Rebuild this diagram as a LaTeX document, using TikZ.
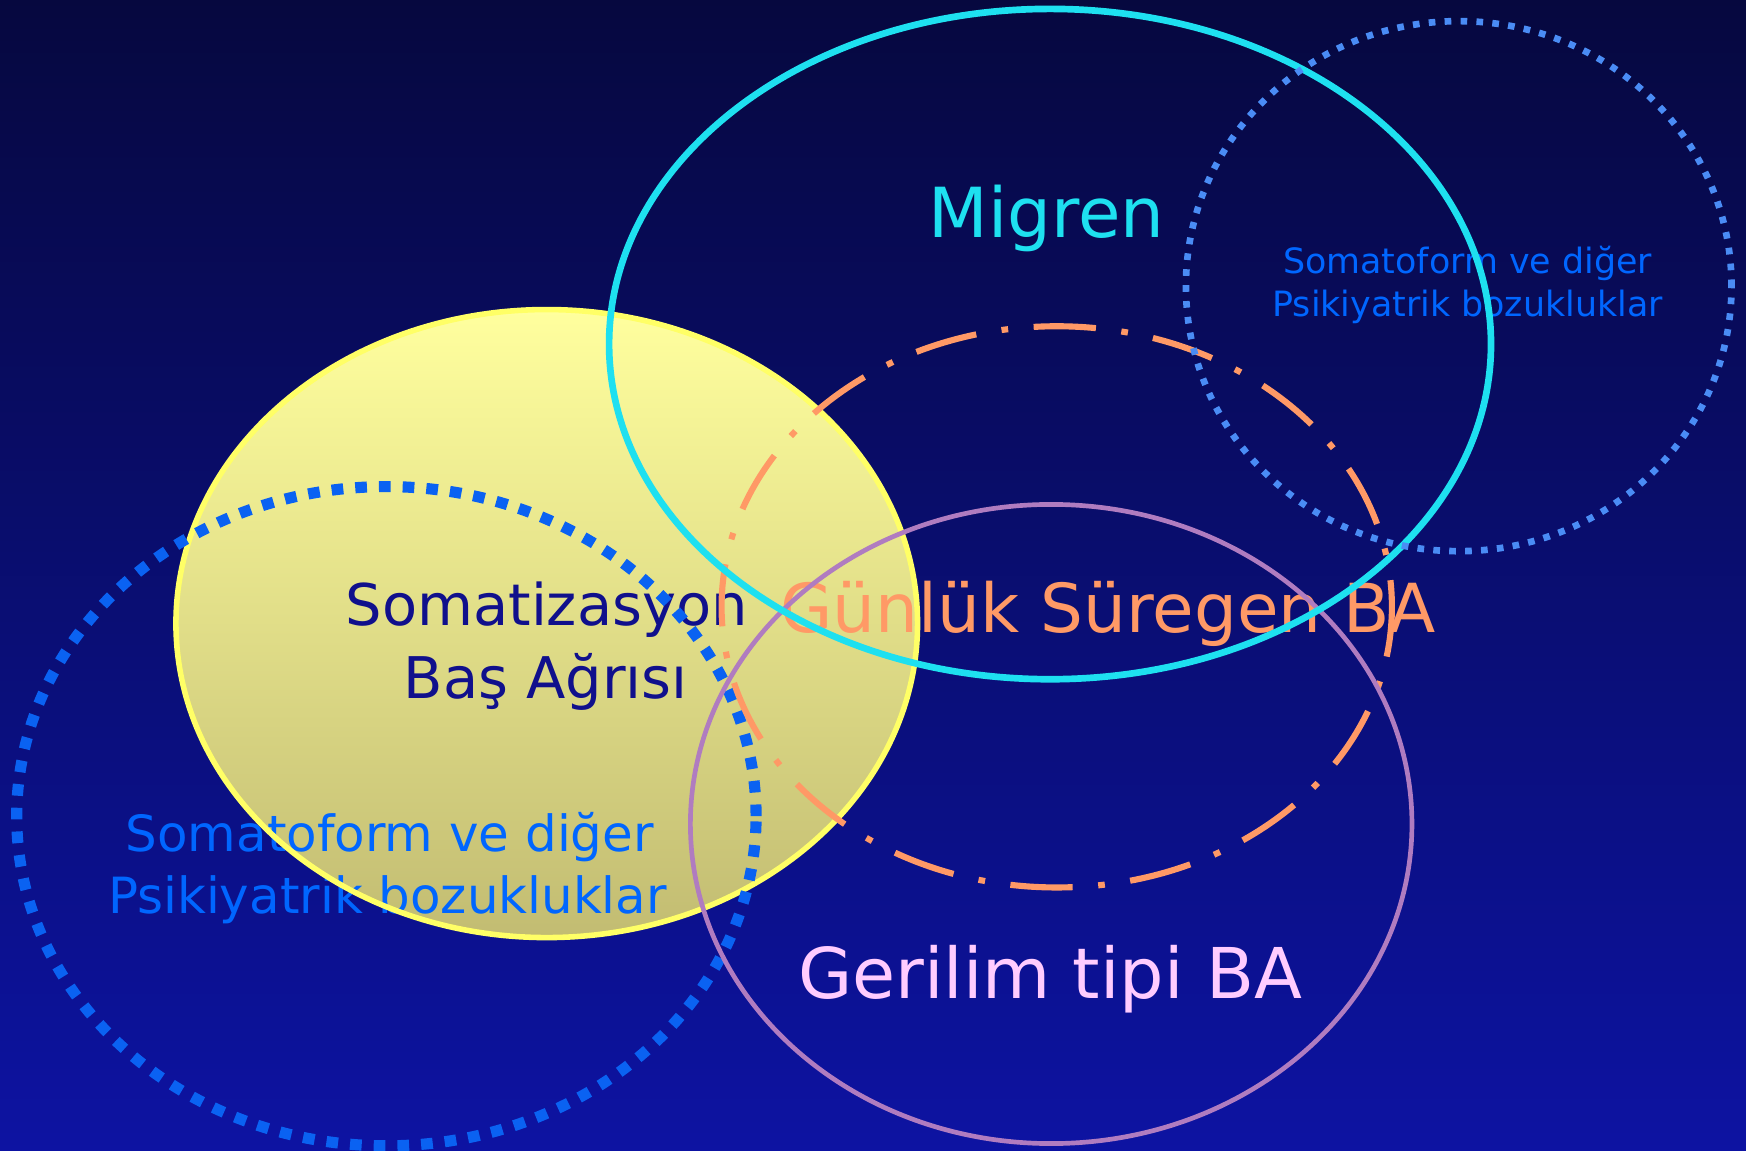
\documentclass[tikz,border=0pt]{standalone}
\usepackage{fontspec}
\setmainfont{DejaVu Sans}
\definecolor{bgtop}{HTML}{06083F}
\definecolor{bgbot}{HTML}{0D13A2}
\definecolor{yelltop}{HTML}{FFFF9E}
\definecolor{yellbot}{HTML}{C2BC72}
\definecolor{yellline}{HTML}{FFFF66}
\definecolor{cyanline}{HTML}{1EE0F0}
\definecolor{orangeline}{HTML}{FF9966}
\definecolor{purpleline}{HTML}{B07CC0}
\definecolor{bigdot}{HTML}{0A62F2}
\definecolor{smalldot}{HTML}{4A8CF5}
\definecolor{somaText}{HTML}{10108C}
\definecolor{psyText}{HTML}{0066FF}
\definecolor{gerText}{HTML}{FFCCFF}
\tikzset{
  lbl/.style={anchor=base, inner sep=0pt, outer sep=0pt},
  cyanring/.style={draw=cyanline, line width=6pt},
  purplering/.style={draw=purpleline, line width=4.2pt},
  orangering/.style={draw=orangeline, line width=5.5pt, dash pattern=on 56pt off 23pt on 6pt off 23pt, dash phase=32pt},
  bigdots/.style={draw=bigdot, line width=10pt, dash pattern=on 10.5pt off 10.8pt},
  smalldots/.style={draw=smalldot, line width=6pt, dash pattern=on 6pt off 8.3pt},
}
\begin{document}
\begin{tikzpicture}[x=1pt,y=1pt]
\useasboundingbox (0,0) rectangle (1568,1033);
% background
\shade[top color=bgtop, bottom color=bgbot] (0,0) rectangle (1568,1033);
% yellow filled ellipse
\shade[top color=yelltop, bottom color=yellbot] (491,473) ellipse [x radius=333, y radius=282];
% texts
\node[lbl, text=cyanline] (migren) at (940,820) {\fontsize{62}{70}\selectfont Migren};
\node[lbl, text=somaText] (soma1) at (491,471) {\fontsize{51.6}{60}\selectfont Somatizasyon};
\node[lbl, text=somaText] (soma2) at (490,406) {\fontsize{51.6}{60}\selectfont Baş Ağrısı};
\node[lbl, text=psyText] (lpsy1) at (350,268) {\fontsize{44.8}{50}\selectfont Somatoform ve diğer};
\node[lbl, text=psyText] (lpsy2) at (348,213) {\fontsize{44.8}{50}\selectfont Psikiyatrik bozukluklar};
\node[lbl, text=psyText] (rpsy1) at (1318,787) {\fontsize{31.3}{36}\selectfont Somatoform ve diğer};
\node[lbl, text=psyText] (rpsy2) at (1318,749) {\fontsize{31.3}{36}\selectfont Psikiyatrik bozukluklar};
\node[lbl, text=orangeline] (gunluk) at (995,465) {\fontsize{60.7}{70}\selectfont Günlük Süregen BA};
\node[lbl, text=gerText] (gerilim) at (943,136) {\fontsize{62.9}{70}\selectfont Gerilim tipi BA};
% outlines
\draw[draw=yellline, line width=5pt] (491,473) ellipse [x radius=333, y radius=282];
\draw[bigdots] (347,300) ellipse [x radius=332, y radius=296];
\draw[orangering] (949,488) ellipse [x radius=301, y radius=252];
\draw[purplering] (944,293) ellipse [x radius=324, y radius=287];
\draw[cyanring] (943,724) ellipse [x radius=396, y radius=301];
\draw[smalldots] (1310,776) ellipse [x radius=245, y radius=238];
\end{tikzpicture}
\end{document}
